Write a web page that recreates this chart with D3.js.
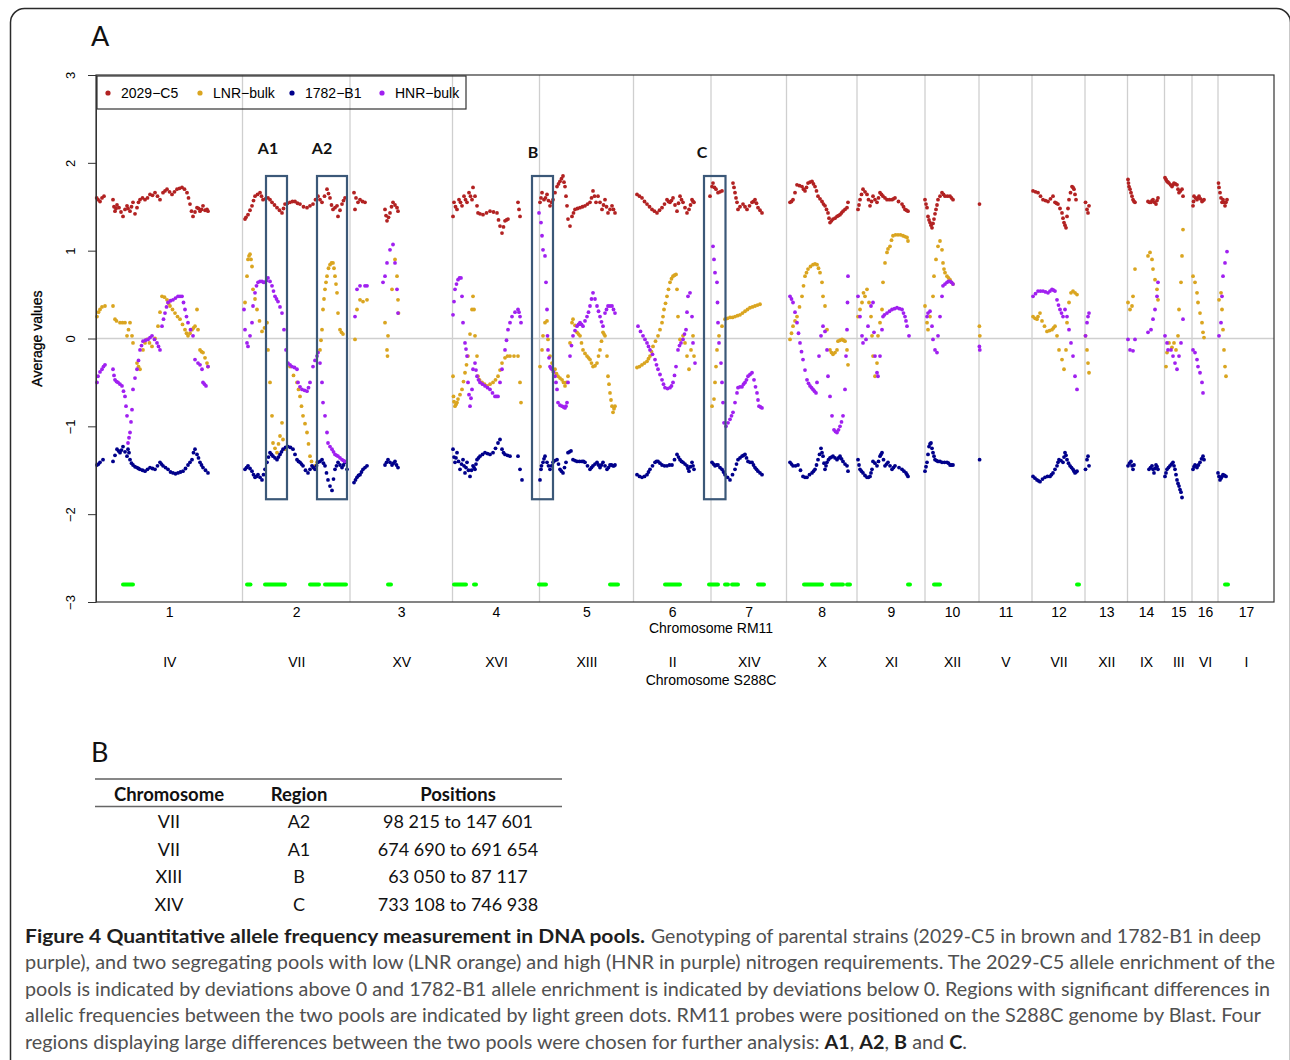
<!DOCTYPE html>
<html><head><meta charset="utf-8">
<script src="https://cdn.jsdelivr.net/npm/d3@7"></script>
<style>body{margin:0;background:#fff}svg{display:block}</style>
</head><body>
<svg id="fig" width="1290" height="1060"></svg>
<script>
// ---------------- DATA ----------------
const chromosomesRM11 = ["1","2","3","4","5","6","7","8","9","10","11","12","13","14","15","16","17"];
const chromosomesS288C = ["IV","VII","XV","XVI","XIII","II","XIV","X","XI","XII","V","VII","XII","IX","III","VI","I"];
// chromosome lengths on the concatenated RM11 axis (kb)
const chromosomeLengthsKb = [1465,1075,1025,870,940,775,755,705,680,540,530,530,425,370,275,260,560];
const yTicks = [-3,-2,-1,0,1,2,3];
const seriesNames = ["2029\u2212C5","LNR\u2212bulk","1782\u2212B1","HNR\u2212bulk"];

// [cumulative genome position (kb), average value]
const values2029C5 = [
 [7,1.60],[20,1.58],[40,1.56],[60,1.60],[80,1.62],[170,1.58],[180,1.50],[190,1.45],[200,1.48],[210,1.52],[230,1.49],[250,1.44],[270,1.39],[290,1.47],[310,1.51],[320,1.48],[340,1.45],[355,1.50],[370,1.55],[390,1.42],[410,1.49],[425,1.55],[440,1.58],[465,1.60],[490,1.58],[515,1.60],[540,1.64],[565,1.63],[590,1.66],[615,1.62],[640,1.58],[670,1.66],[690,1.68],[710,1.70],[735,1.67],[760,1.64],[785,1.67],[810,1.70],[835,1.71],[860,1.72],[885,1.70],[910,1.66],[925,1.60],[940,1.53],[955,1.45],[970,1.39],[990,1.44],[1010,1.49],[1025,1.48],[1040,1.45],[1055,1.47],[1070,1.51],[1090,1.46],[1110,1.47],[1120,1.45],
 [1490,1.36],[1500,1.38],[1520,1.41],[1540,1.46],[1560,1.51],[1575,1.57],[1590,1.62],[1615,1.64],[1640,1.66],[1655,1.62],[1670,1.58],[1695,1.59],[1720,1.60],[1740,1.58],[1760,1.55],[1785,1.52],[1810,1.49],[1835,1.46],[1860,1.43],[1875,1.48],[1890,1.53],[1915,1.54],[1940,1.55],[1965,1.56],[1990,1.56],[2015,1.54],[2040,1.53],[2075,1.50],[2110,1.49],[2140,1.51],[2170,1.53],[2195,1.58],[2220,1.62],[2240,1.58],[2260,1.55],[2285,1.62],[2310,1.70],[2325,1.65],[2340,1.60],[2355,1.52],[2370,1.47],[2390,1.49],[2410,1.51],[2420,1.39],[2440,1.46],[2460,1.53],[2475,1.57],[2490,1.60],
 [2580,1.66],[2590,1.47],[2600,1.60],[2620,1.55],[2640,1.58],[2665,1.56],[2690,1.55],[2890,1.47],[2900,1.40],[2910,1.34],[2925,1.38],[2940,1.43],[2955,1.50],[2970,1.55],[2990,1.52],[3010,1.49],[3020,1.45],
 [3570,1.39],[3580,1.55],[3595,1.50],[3610,1.47],[3630,1.58],[3645,1.55],[3660,1.51],[3680,1.62],[3695,1.58],[3710,1.55],[3730,1.66],[3745,1.62],[3760,1.58],[3770,1.72],[3790,1.62],[3810,1.51],[3820,1.43],[3840,1.42],[3870,1.41],[3905,1.43],[3940,1.45],[3975,1.44],[4010,1.43],[4025,1.35],[4040,1.28],[4060,1.20],[4075,1.27],[4090,1.34],[4105,1.35],[4120,1.36],[4220,1.55],[4230,1.47],[4240,1.39],
 [4440,1.55],[4450,1.60],[4460,1.66],[4480,1.58],[4495,1.60],[4510,1.64],[4525,1.57],[4540,1.51],[4555,1.55],[4570,1.58],[4590,1.66],[4610,1.73],[4625,1.76],[4640,1.79],[4655,1.82],[4670,1.85],[4680,1.78],[4690,1.73],[4700,1.62],[4710,1.51],[4720,1.36],[4740,1.28],[4760,1.39],[4775,1.43],[4790,1.47],[4815,1.48],[4840,1.49],[4865,1.50],[4890,1.51],[4915,1.53],[4940,1.55],[4955,1.60],[4970,1.68],[4985,1.62],[5000,1.55],[5020,1.62],[5040,1.55],[5060,1.47],[5075,1.52],[5090,1.58],[5105,1.50],[5120,1.43],[5140,1.47],[5160,1.51],[5175,1.47],[5190,1.43],
 [5410,1.64],[5435,1.62],[5460,1.60],[5485,1.56],[5510,1.53],[5535,1.50],[5560,1.47],[5585,1.45],[5610,1.43],[5635,1.46],[5660,1.49],[5685,1.53],[5710,1.58],[5725,1.56],[5740,1.55],[5755,1.57],[5770,1.60],[5790,1.52],[5810,1.45],[5825,1.54],[5840,1.62],[5855,1.58],[5870,1.55],[5890,1.49],[5910,1.43],[5930,1.47],[5945,1.52],[5960,1.58],[5970,1.56],[5980,1.55],
 [6140,1.62],[6160,1.73],[6170,1.77],[6185,1.72],[6200,1.70],[6220,1.66],[6240,1.67],[6260,1.68],[6370,1.77],[6380,1.72],[6390,1.66],[6400,1.60],[6410,1.55],[6420,1.47],[6440,1.50],[6470,1.53],[6490,1.50],[6510,1.47],[6535,1.51],[6560,1.55],[6575,1.56],[6590,1.58],[6605,1.54],[6620,1.49],[6640,1.46],[6660,1.43],
 [6940,1.55],[6955,1.56],[6970,1.58],[6990,1.66],[7010,1.75],[7035,1.74],[7060,1.73],[7075,1.70],[7090,1.68],[7105,1.72],[7120,1.77],[7140,1.78],[7160,1.79],[7175,1.76],[7190,1.73],[7205,1.68],[7220,1.62],[7240,1.59],[7260,1.56],[7275,1.53],[7290,1.51],[7305,1.47],[7320,1.43],[7330,1.37],[7340,1.32],[7355,1.34],[7370,1.36],[7390,1.37],[7410,1.39],[7425,1.40],[7440,1.41],[7455,1.43],[7470,1.45],[7490,1.47],[7510,1.49],[7520,1.55],
 [7620,1.47],[7630,1.52],[7640,1.58],[7655,1.64],[7670,1.70],[7690,1.67],[7710,1.64],[7725,1.58],[7740,1.51],[7755,1.56],[7770,1.62],[7790,1.58],[7810,1.55],[7825,1.60],[7840,1.66],[7855,1.64],[7870,1.62],[7890,1.60],[7910,1.58],[7935,1.58],[7960,1.58],[7975,1.59],[7990,1.60],[8025,1.56],[8060,1.53],[8075,1.50],[8090,1.47],[8105,1.46],[8120,1.45],
 [8290,1.58],[8300,1.53],[8310,1.49],[8320,1.39],[8330,1.35],[8340,1.32],[8350,1.29],[8360,1.26],[8370,1.31],[8380,1.36],[8390,1.42],[8400,1.47],[8410,1.52],[8420,1.58],[8440,1.62],[8460,1.66],[8475,1.64],[8490,1.62],[8515,1.62],[8540,1.62],[8555,1.60],[8570,1.58],
 [8835,1.53],
 [9370,1.68],[9395,1.67],[9420,1.66],[9445,1.62],[9470,1.58],[9495,1.57],[9520,1.56],[9545,1.59],[9570,1.62],[9590,1.55],[9605,1.54],[9620,1.53],[9640,1.48],[9660,1.43],[9670,1.37],[9680,1.32],[9690,1.29],[9700,1.26],[9710,1.39],[9720,1.48],[9730,1.58],[9745,1.66],[9760,1.73],[9770,1.72],[9780,1.70],[9790,1.64],[9800,1.58],
 [9895,1.55],[9910,1.47],[9920,1.43],[9930,1.51],
 [10320,1.81],[10325,1.77],[10330,1.73],[10340,1.70],[10350,1.66],[10360,1.62],[10370,1.58],[10380,1.56],[10390,1.55],[10520,1.56],[10535,1.55],[10550,1.55],[10560,1.57],[10570,1.58],[10585,1.55],[10600,1.53],[10610,1.57],[10620,1.60],
 [10690,1.83],[10700,1.81],[10710,1.79],[10720,1.78],[10730,1.77],[10745,1.75],[10760,1.73],[10770,1.75],[10780,1.77],[10795,1.76],[10810,1.75],[10820,1.70],[10830,1.66],[10845,1.68],[10860,1.70],[10870,1.62],
 [10970,1.51],[10975,1.56],[10980,1.62],[10995,1.60],[11010,1.58],[11020,1.60],[11030,1.62],[11045,1.59],[11060,1.56],[11070,1.57],[11080,1.58],
 [11225,1.77],[11230,1.72],[11240,1.66],[11250,1.60],[11260,1.55],[11270,1.58],[11280,1.55],[11290,1.51],[11300,1.55],[11310,1.58]
];
const valuesLNR = [
 [10,0.25],[25,0.30],[40,0.33],[60,0.36],[90,0.37],[170,0.37],[190,0.22],[205,0.20],[240,0.18],[265,0.18],[290,0.18],[310,0.03],[325,0.10],[340,0.18],[360,0.03],[370,-0.05],[410,-0.28],[425,-0.32],[440,-0.35],[470,-0.13],[490,-0.05],[510,-0.01],[535,-0.05],[560,-0.09],[590,0.00],[620,0.14],[640,0.30],[660,0.48],[685,0.47],[710,0.44],[725,0.40],[740,0.37],[765,0.33],[790,0.29],[815,0.25],[840,0.22],[865,0.16],[890,0.10],[905,0.06],[920,0.03],[940,0.06],[960,0.10],[975,0.12],[990,0.14],[1010,0.33],[1020,0.10],[1040,-0.13],[1055,-0.15],[1070,-0.16],[1090,-0.22],[1110,-0.28],[1120,-0.32],
 [1490,0.41],[1510,0.71],[1520,0.90],[1530,0.94],[1540,0.96],[1550,0.90],[1560,0.82],[1570,0.56],[1590,0.45],[1610,0.33],[1635,0.20],[1660,0.08],[1685,0.12],[1710,0.18],[1720,-0.13],[1740,-0.50],[1760,-0.88],[1770,-1.19],[1790,-1.25],[1810,-1.30],[1825,-1.20],[1840,-1.11],[1860,-0.96],[1870,-1.15],[1890,-1.26],[1940,-0.32],[1975,-0.42],[2010,-0.50],[2025,-0.58],[2040,-0.66],[2055,-0.77],[2070,-0.88],[2090,-0.97],[2110,-1.07],[2125,-1.20],[2140,-1.34],[2155,-1.40],[2170,-1.47],[2190,-1.45],[2210,-1.41],[2240,-0.13],[2250,-0.02],[2260,0.10],[2270,0.33],[2280,0.45],[2290,0.56],[2300,0.64],[2310,0.71],[2325,0.80],[2340,0.84],[2355,0.86],[2370,0.86],[2380,0.80],[2390,0.71],[2400,0.62],[2410,0.52],[2420,0.29],[2440,0.10],[2455,0.07],[2470,0.05],
 [2590,-0.01],[2610,0.33],[2640,0.44],[2670,0.42],[2710,0.44],[2890,0.18],[2910,-0.13],[2915,-0.20],[2920,0.03],[2960,0.56],[2990,0.90],[3010,0.71],[3020,0.44],[3025,0.29],
 [3570,-0.43],[3575,-0.66],[3580,-0.72],[3590,-0.77],[3600,-0.75],[3610,-0.73],[3620,-0.69],[3640,-0.64],[3660,-0.58],[3675,-0.49],[3690,-0.39],[3705,-0.30],[3720,-0.20],[3740,0.05],[3760,0.33],[3770,0.48],[3780,0.33],[3790,0.03],[3810,-0.20],[3820,-0.43],[3835,-0.47],[3860,-0.50],[3885,-0.52],[3910,-0.54],[3940,-0.52],[3970,-0.50],[3995,-0.47],[4020,-0.43],[4040,-0.36],[4060,-0.28],[4090,-0.22],[4115,-0.20],[4140,-0.20],[4180,-0.20],[4220,-0.20],[4240,-0.50],[4250,-0.73],
 [4440,-0.32],[4460,-0.13],[4470,0.03],[4490,0.18],[4510,0.20],[4520,-0.01],[4540,-0.20],[4560,-0.28],[4575,-0.38],[4590,-0.35],[4605,-0.40],[4620,-0.43],[4640,-0.45],[4660,-0.47],[4675,-0.50],[4690,-0.54],[4705,-0.50],[4720,-0.43],[4740,-0.05],[4760,0.18],[4770,0.22],[4790,0.15],[4810,0.07],[4825,0.05],[4840,0.03],[4855,-0.05],[4870,-0.13],[4890,-0.17],[4910,-0.20],[4925,-0.22],[4940,-0.24],[4955,-0.28],[4970,-0.32],[4990,-0.31],[5010,-0.28],[5025,-0.20],[5040,-0.13],[5055,-0.03],[5070,0.07],[5080,0.05],[5090,0.03],[5110,-0.20],[5120,-0.43],[5130,-0.52],[5140,-0.62],[5150,-0.70],[5160,-0.77],[5170,-0.84],[5180,-0.80],[5190,-0.77],
 [5410,-0.33],[5435,-0.32],[5460,-0.30],[5485,-0.28],[5510,-0.26],[5525,-0.23],[5540,-0.20],[5555,-0.15],[5570,-0.09],[5595,-0.03],[5620,0.03],[5640,0.10],[5660,0.18],[5670,0.25],[5680,0.33],[5695,0.40],[5710,0.48],[5725,0.56],[5740,0.64],[5755,0.68],[5770,0.71],[5785,0.72],[5800,0.73],[5810,0.56],[5820,0.25],[5840,-0.01],[5870,0.03],[5890,-0.05],[5910,-0.20],[5930,-0.35],[5950,-0.13],[5970,0.03],[5980,-0.20],
 [6160,-0.77],[6180,-0.69],[6190,-0.50],[6200,-0.32],[6210,-0.13],[6230,0.03],[6260,0.14],[6290,0.22],[6315,0.23],[6340,0.24],[6365,0.24],[6390,0.25],[6415,0.26],[6440,0.27],[6465,0.29],[6490,0.31],[6515,0.33],[6540,0.35],[6565,0.36],[6590,0.37],[6615,0.38],[6640,0.39],
 [6940,-0.01],[6955,0.06],[6970,0.14],[6990,0.20],[7010,0.25],[7035,0.36],[7060,0.48],[7075,0.60],[7090,0.71],[7105,0.75],[7120,0.79],[7145,0.82],[7170,0.84],[7190,0.85],[7210,0.84],[7225,0.80],[7240,0.75],[7260,0.64],[7270,0.48],[7290,0.37],[7310,0.10],[7340,-0.13],[7355,-0.16],[7370,-0.18],[7390,-0.16],[7410,-0.13],[7420,-0.03],[7440,-0.02],[7460,-0.01],[7475,-0.02],[7490,-0.03],[7510,-0.13],[7520,-0.30],
 [7620,0.25],[7640,0.33],[7660,0.41],[7675,0.52],[7690,0.48],[7710,0.56],[7730,0.41],[7750,0.25],[7760,0.03],[7770,-0.20],[7790,-0.43],[7810,-0.28],[7820,0.03],[7840,0.18],[7860,0.33],[7870,0.64],[7890,0.86],[7910,0.98],[7920,1.02],[7940,1.05],[7955,1.12],[7970,1.17],[7995,1.18],[8020,1.18],[8045,1.18],[8070,1.17],[8090,1.16],[8110,1.15],[8120,1.11],
 [8290,0.37],[8310,0.18],[8320,0.10],[8340,0.25],[8370,0.48],[8380,0.71],[8400,0.90],[8420,1.05],[8440,1.11],[8460,1.01],[8470,0.86],[8480,0.79],[8490,0.75],[8510,0.71],[8525,0.69],[8540,0.67],[8555,0.64],[8570,0.62],
 [8834,0.14],[8838,0.03],
 [9370,0.25],[9390,0.23],[9410,0.22],[9420,0.25],[9440,0.29],[9460,0.20],[9485,0.14],[9510,0.08],[9535,0.09],[9560,0.10],[9575,0.12],[9590,0.14],[9610,0.03],[9630,-0.13],[9660,-0.24],[9680,-0.35],[9700,-0.13],[9710,0.18],[9730,0.41],[9750,0.52],[9770,0.54],[9790,0.52],[9810,0.50],
 [9895,0.03],[9910,-0.13],[9920,-0.28],[9930,-0.39],
 [10320,0.41],[10340,0.33],[10360,0.37],[10370,0.48],[10390,0.79],[10520,0.94],[10540,0.98],[10560,0.90],[10570,0.79],[10590,0.67],[10610,0.56],[10620,0.44],
 [10700,-0.32],[10710,-0.16],[10730,-0.05],[10760,-0.10],[10780,-0.05],[10800,-0.13],[10820,0.03],[10830,0.33],[10850,0.64],[10860,0.94],[10870,1.24],
 [10970,0.71],[10990,0.64],[11010,0.52],[11020,0.41],[11040,0.29],[11060,0.18],[11070,0.07],[11080,0.01],
 [11230,0.44],[11250,0.52],[11260,0.33],[11270,0.10],[11280,-0.13],[11290,-0.32],[11300,-0.43]
];
const values1782B1 = [
 [10,-1.44],[25,-1.43],[40,-1.41],[70,-1.38],[170,-1.40],[190,-1.33],[210,-1.26],[225,-1.28],[240,-1.30],[255,-1.27],[270,-1.23],[290,-1.29],[310,-1.34],[320,-1.26],[330,-1.30],[340,-1.38],[355,-1.42],[370,-1.44],[390,-1.46],[410,-1.47],[425,-1.48],[440,-1.49],[465,-1.50],[490,-1.51],[515,-1.49],[540,-1.47],[565,-1.48],[590,-1.49],[615,-1.45],[640,-1.41],[655,-1.43],[670,-1.45],[695,-1.47],[720,-1.49],[745,-1.52],[770,-1.53],[795,-1.54],[820,-1.53],[845,-1.52],[870,-1.51],[895,-1.48],[920,-1.44],[940,-1.41],[960,-1.38],[975,-1.30],[990,-1.26],[1010,-1.32],[1025,-1.36],[1040,-1.41],[1055,-1.44],[1070,-1.47],[1095,-1.50],[1120,-1.53],
 [1490,-1.49],[1505,-1.47],[1520,-1.45],[1540,-1.48],[1560,-1.51],[1575,-1.55],[1590,-1.58],[1605,-1.57],[1620,-1.55],[1640,-1.58],[1660,-1.61],[1675,-1.55],[1690,-1.49],[1710,-1.41],[1725,-1.35],[1740,-1.30],[1755,-1.32],[1770,-1.34],[1790,-1.36],[1810,-1.38],[1825,-1.35],[1840,-1.32],[1855,-1.29],[1870,-1.26],[1895,-1.24],[1920,-1.23],[1945,-1.24],[1970,-1.26],[1990,-1.32],[2010,-1.38],[2025,-1.40],[2040,-1.41],[2055,-1.43],[2070,-1.45],[2095,-1.50],[2120,-1.53],[2140,-1.49],[2160,-1.45],[2175,-1.47],[2190,-1.49],[2205,-1.45],[2220,-1.41],[2240,-1.40],[2260,-1.38],[2275,-1.42],[2290,-1.45],[2305,-1.53],[2320,-1.61],[2340,-1.68],[2360,-1.73],[2375,-1.60],[2390,-1.49],[2405,-1.45],[2420,-1.41],[2440,-1.44],[2460,-1.47],[2475,-1.44],[2490,-1.41],[2510,-1.49],
 [2580,-1.64],[2595,-1.61],[2610,-1.58],[2625,-1.56],[2640,-1.55],[2655,-1.52],[2670,-1.49],[2690,-1.47],[2710,-1.45],[2890,-1.44],[2905,-1.41],[2920,-1.38],[2940,-1.41],[2960,-1.44],[2975,-1.42],[2990,-1.40],[3005,-1.44],[3020,-1.47],
 [3570,-1.26],[3580,-1.35],[3590,-1.41],[3600,-1.36],[3610,-1.30],[3625,-1.40],[3640,-1.49],[3655,-1.43],[3670,-1.38],[3680,-1.45],[3690,-1.53],[3700,-1.47],[3710,-1.41],[3725,-1.50],[3740,-1.57],[3755,-1.50],[3770,-1.45],[3780,-1.47],[3790,-1.49],[3800,-1.43],[3810,-1.38],[3825,-1.36],[3840,-1.34],[3865,-1.32],[3890,-1.30],[3915,-1.31],[3940,-1.32],[3970,-1.30],[3995,-1.25],[4020,-1.19],[4040,-1.15],[4060,-1.26],[4075,-1.30],[4090,-1.32],[4115,-1.33],[4140,-1.34],[4220,-1.34],[4240,-1.49],[4260,-1.61],
 [4440,-1.61],[4450,-1.49],[4455,-1.45],[4470,-1.41],[4480,-1.37],[4490,-1.34],[4510,-1.41],[4525,-1.45],[4540,-1.49],[4555,-1.45],[4570,-1.41],[4590,-1.39],[4610,-1.38],[4625,-1.43],[4640,-1.49],[4655,-1.51],[4670,-1.53],[4685,-1.47],[4700,-1.41],[4720,-1.30],[4735,-1.29],[4750,-1.28],[4770,-1.38],[4790,-1.39],[4810,-1.40],[4835,-1.40],[4860,-1.40],[4875,-1.40],[4890,-1.41],[4915,-1.45],[4940,-1.49],[4955,-1.47],[4970,-1.45],[4990,-1.43],[5010,-1.41],[5025,-1.44],[5040,-1.47],[5055,-1.44],[5070,-1.41],[5090,-1.45],[5110,-1.49],[5125,-1.47],[5140,-1.44],[5155,-1.44],[5170,-1.45],[5180,-1.45],[5190,-1.44],
 [5410,-1.55],[5435,-1.57],[5460,-1.58],[5485,-1.57],[5510,-1.55],[5525,-1.52],[5540,-1.49],[5565,-1.45],[5590,-1.41],[5605,-1.40],[5620,-1.40],[5640,-1.42],[5660,-1.44],[5685,-1.45],[5710,-1.45],[5735,-1.44],[5760,-1.44],[5785,-1.38],[5810,-1.32],[5825,-1.35],[5840,-1.38],[5855,-1.40],[5870,-1.41],[5890,-1.43],[5910,-1.45],[5920,-1.48],[5930,-1.51],[5945,-1.46],[5960,-1.41],[5970,-1.45],[5980,-1.49],
 [6160,-1.41],[6175,-1.43],[6190,-1.45],[6205,-1.44],[6220,-1.44],[6240,-1.47],[6260,-1.49],[6275,-1.52],[6290,-1.55],[6315,-1.58],[6340,-1.61],[6365,-1.55],[6390,-1.49],[6405,-1.43],[6420,-1.38],[6440,-1.36],[6460,-1.34],[6475,-1.33],[6490,-1.32],[6505,-1.36],[6520,-1.40],[6540,-1.41],[6560,-1.41],[6575,-1.44],[6590,-1.47],[6605,-1.49],[6620,-1.51],[6640,-1.53],[6660,-1.55],
 [6940,-1.41],[6955,-1.43],[6970,-1.45],[6995,-1.45],[7020,-1.44],[7045,-1.50],[7070,-1.57],[7090,-1.58],[7110,-1.58],[7135,-1.55],[7160,-1.53],[7175,-1.51],[7190,-1.49],[7205,-1.44],[7220,-1.38],[7235,-1.32],[7250,-1.25],[7260,-1.30],[7270,-1.34],[7280,-1.42],[7290,-1.49],[7300,-1.45],[7310,-1.41],[7325,-1.38],[7340,-1.36],[7355,-1.35],[7370,-1.34],[7390,-1.36],[7410,-1.38],[7425,-1.36],[7440,-1.34],[7455,-1.37],[7470,-1.40],[7490,-1.43],[7510,-1.45],[7520,-1.51],
 [7620,-1.38],[7630,-1.44],[7640,-1.49],[7655,-1.51],[7670,-1.53],[7690,-1.56],[7710,-1.58],[7725,-1.58],[7740,-1.57],[7750,-1.53],[7760,-1.49],[7770,-1.40],[7790,-1.42],[7810,-1.45],[7825,-1.40],[7840,-1.34],[7850,-1.32],[7860,-1.30],[7875,-1.38],[7890,-1.45],[7905,-1.43],[7920,-1.41],[7940,-1.45],[7960,-1.49],[7975,-1.47],[7990,-1.45],[8030,-1.47],[8060,-1.49],[8080,-1.51],[8100,-1.53],[8110,-1.55],[8120,-1.57],
 [8290,-1.51],[8300,-1.46],[8310,-1.41],[8320,-1.32],[8330,-1.23],[8340,-1.20],[8350,-1.19],[8360,-1.25],[8370,-1.30],[8380,-1.34],[8390,-1.38],[8405,-1.39],[8420,-1.40],[8440,-1.40],[8460,-1.41],[8485,-1.41],[8510,-1.41],[8525,-1.42],[8540,-1.44],[8555,-1.44],[8570,-1.44],
 [8836,-1.38],
 [9370,-1.57],[9390,-1.59],[9410,-1.61],[9425,-1.62],[9440,-1.63],[9465,-1.60],[9490,-1.58],[9515,-1.57],[9540,-1.57],[9555,-1.55],[9570,-1.53],[9590,-1.49],[9610,-1.45],[9620,-1.41],[9630,-1.38],[9650,-1.39],[9670,-1.41],[9680,-1.35],[9690,-1.30],[9700,-1.33],[9710,-1.38],[9725,-1.42],[9740,-1.45],[9755,-1.47],[9770,-1.49],[9780,-1.51],[9790,-1.53],[9800,-1.52],[9810,-1.51],
 [9895,-1.49],[9910,-1.38],[9920,-1.34],[9930,-1.45],
 [10320,-1.45],[10335,-1.42],[10350,-1.40],[10360,-1.45],[10370,-1.49],[10380,-1.44],[10530,-1.49],[10545,-1.47],[10560,-1.45],[10570,-1.49],[10580,-1.53],[10590,-1.48],[10600,-1.44],[10610,-1.46],[10620,-1.49],
 [10690,-1.57],[10700,-1.53],[10710,-1.49],[10725,-1.47],[10740,-1.45],[10755,-1.43],[10770,-1.41],[10780,-1.45],[10790,-1.49],[10800,-1.55],[10810,-1.61],[10820,-1.65],[10830,-1.68],[10840,-1.72],[10850,-1.75],[10860,-1.81],
 [10970,-1.49],[10980,-1.46],[10990,-1.44],[11000,-1.45],[11010,-1.47],[11025,-1.44],[11040,-1.41],[11055,-1.37],[11070,-1.34],[11080,-1.38],
 [11220,-1.53],[11230,-1.57],[11240,-1.61],[11250,-1.59],[11260,-1.57],[11270,-1.55],[11285,-1.56],[11300,-1.57]
];
const valuesHNR = [
 [10,-0.50],[20,-0.43],[40,-0.38],[60,-0.35],[75,-0.32],[90,-0.30],[170,-0.35],[180,-0.42],[190,-0.47],[205,-0.49],[220,-0.50],[240,-0.52],[260,-0.54],[275,-0.60],[290,-0.66],[300,-0.77],[310,-0.88],[320,-1.19],[330,-1.13],[340,-1.07],[350,-0.95],[360,-0.81],[370,-0.58],[390,-0.45],[410,-0.35],[425,-0.25],[440,-0.13],[455,-0.08],[470,-0.03],[495,-0.02],[520,-0.01],[540,0.01],[560,0.03],[585,-0.01],[610,-0.05],[625,-0.09],[640,-0.13],[660,0.14],[675,0.22],[690,0.29],[705,0.36],[720,0.41],[745,0.43],[770,0.44],[795,0.46],[820,0.48],[840,0.48],[860,0.48],[875,0.41],[890,0.33],[905,0.25],[920,0.18],[945,0.10],[970,0.03],[990,-0.24],[1020,-0.28],[1040,-0.30],[1060,-0.35],[1070,-0.50],[1085,-0.52],[1100,-0.54],[1120,-0.32],
 [1480,0.33],[1490,0.10],[1510,-0.05],[1520,-0.09],[1540,0.03],[1560,0.18],[1570,0.37],[1590,0.52],[1605,0.60],[1620,0.64],[1640,0.65],[1660,0.65],[1675,0.64],[1690,0.64],[1705,0.66],[1720,0.69],[1740,0.65],[1760,0.60],[1775,0.54],[1790,0.48],[1805,0.45],[1820,0.42],[1840,0.36],[1860,0.29],[1880,0.10],[1900,-0.13],[1920,-0.28],[1940,-0.30],[1960,-0.32],[1985,-0.33],[2010,-0.35],[2020,-0.50],[2040,-0.55],[2060,-0.58],[2085,-0.59],[2110,-0.60],[2125,-0.56],[2140,-0.50],[2170,-0.32],[2190,-0.25],[2210,-0.20],[2220,-0.16],[2240,-0.28],[2260,-0.50],[2270,-0.73],[2290,-0.88],[2310,-1.07],[2320,-1.19],[2340,-1.23],[2360,-1.26],[2375,-1.29],[2390,-1.32],[2405,-1.33],[2420,-1.34],[2440,-1.36],[2460,-1.38],[2475,-1.39],[2490,-1.40],
 [2590,0.25],[2610,0.56],[2640,0.60],[2690,0.60],[2710,0.60],[2870,0.64],[2890,0.71],[2910,0.86],[2940,1.01],[2970,1.07],[2990,0.86],[3010,0.56],[3020,0.29],
 [3570,0.27],[3580,0.42],[3590,0.56],[3605,0.62],[3620,0.67],[3635,0.69],[3650,0.69],[3660,0.48],[3670,0.18],[3690,-0.05],[3700,-0.12],[3710,-0.20],[3720,-0.50],[3730,-0.64],[3740,-0.77],[3750,-0.68],[3760,-0.58],[3770,-0.35],[3790,-0.28],[3800,-0.36],[3810,-0.43],[3825,-0.47],[3840,-0.50],[3865,-0.52],[3890,-0.54],[3915,-0.56],[3940,-0.58],[3965,-0.62],[3990,-0.66],[4005,-0.66],[4020,-0.66],[4040,-0.50],[4060,-0.35],[4090,-0.13],[4105,-0.02],[4120,0.10],[4140,0.18],[4160,0.25],[4190,0.30],[4220,0.33],[4230,0.30],[4240,0.25],[4250,0.18],
 [4430,1.43],[4450,1.32],[4460,1.17],[4470,1.01],[4490,0.94],[4500,0.64],[4510,0.33],[4515,0.03],[4520,-0.13],[4530,-0.22],[4540,-0.32],[4550,-0.34],[4560,-0.35],[4575,-0.38],[4590,-0.43],[4600,-0.50],[4610,-0.58],[4620,-0.73],[4640,-0.76],[4660,-0.77],[4675,-0.78],[4690,-0.79],[4700,-0.77],[4710,-0.73],[4720,-0.50],[4740,-0.20],[4755,-0.08],[4770,0.03],[4790,0.09],[4810,0.14],[4825,0.16],[4840,0.18],[4855,0.16],[4870,0.14],[4890,0.20],[4910,0.25],[4925,0.30],[4940,0.37],[4955,0.45],[4970,0.52],[4990,0.45],[5010,0.37],[5025,0.31],[5040,0.25],[5055,0.19],[5070,0.14],[5090,0.29],[5105,0.33],[5120,0.37],[5140,0.37],[5160,0.37],[5175,0.33],[5190,0.29],
 [5420,0.14],[5445,0.08],[5470,0.03],[5490,-0.01],[5510,-0.05],[5525,-0.09],[5540,-0.13],[5565,-0.18],[5590,-0.24],[5605,-0.30],[5620,-0.35],[5640,-0.41],[5660,-0.47],[5675,-0.52],[5690,-0.56],[5715,-0.57],[5740,-0.56],[5755,-0.54],[5770,-0.50],[5785,-0.42],[5800,-0.32],[5820,-0.13],[5835,-0.08],[5850,-0.05],[5870,-0.01],[5885,0.05],[5900,0.10],[5910,0.30],[5920,0.48],[5940,0.52],[5960,0.25],[5970,-0.05],[5990,-0.28],
 [6170,1.05],[6180,0.90],[6190,0.75],[6210,0.64],[6215,0.41],[6220,0.18],[6230,-0.05],[6250,-0.28],[6260,-0.50],[6270,-0.73],[6280,-0.96],[6300,-1.00],[6320,-0.96],[6340,-0.92],[6355,-0.88],[6370,-0.84],[6390,-0.73],[6410,-0.62],[6420,-0.56],[6440,-0.55],[6460,-0.55],[6475,-0.52],[6490,-0.50],[6505,-0.47],[6520,-0.43],[6540,-0.41],[6560,-0.39],[6580,-0.47],[6595,-0.55],[6610,-0.62],[6620,-0.70],[6630,-0.77],[6645,-0.78],[6660,-0.79],
 [6940,0.48],[6955,0.45],[6970,0.41],[6990,0.30],[7010,0.18],[7025,0.06],[7040,-0.05],[7055,-0.15],[7070,-0.24],[7090,-0.36],[7110,-0.47],[7125,-0.51],[7140,-0.54],[7155,-0.56],[7170,-0.58],[7185,-0.60],[7200,-0.62],[7210,-0.50],[7230,-0.20],[7250,0.03],[7270,0.14],[7290,0.08],[7310,-0.13],[7320,-0.43],[7340,-0.66],[7360,-0.88],[7380,-1.04],[7395,-1.06],[7410,-1.07],[7425,-1.04],[7440,-1.00],[7455,-0.95],[7470,-0.88],[7490,-0.58],[7500,-0.20],[7510,0.10],[7515,0.41],[7520,0.71],
 [7620,0.48],[7640,0.25],[7660,0.03],[7670,-0.05],[7700,-0.01],[7720,0.14],[7750,0.37],[7770,0.41],[7780,0.07],[7790,-0.20],[7810,-0.39],[7820,-0.43],[7840,-0.20],[7860,0.10],[7870,0.25],[7885,0.27],[7910,0.29],[7935,0.31],[7960,0.33],[7985,0.34],[8010,0.35],[8035,0.34],[8060,0.33],[8075,0.29],[8090,0.25],[8100,0.20],[8110,0.14],[8130,0.03],
 [8310,0.25],[8320,0.29],[8340,0.31],[8360,0.14],[8370,-0.01],[8390,-0.13],[8410,-0.16],[8420,0.03],[8440,0.25],[8460,0.48],[8470,0.60],[8490,0.62],[8510,0.64],[8525,0.65],[8540,0.65],[8555,0.64],[8570,0.62],
 [8834,-0.09],[8838,-0.13],
 [9370,0.48],[9395,0.51],[9420,0.54],[9445,0.54],[9470,0.54],[9495,0.53],[9520,0.52],[9540,0.54],[9560,0.56],[9575,0.55],[9590,0.54],[9610,0.44],[9625,0.38],[9640,0.33],[9655,0.29],[9670,0.25],[9690,0.33],[9710,0.25],[9730,0.10],[9750,-0.05],[9770,-0.20],[9790,-0.43],[9810,-0.58],
 [9895,0.03],[9910,0.18],[9920,0.25],[9930,0.29],
 [10320,-0.01],[10340,-0.13],[10370,-0.14],[10390,-0.01],[10520,0.07],[10550,0.10],[10570,0.22],[10590,0.33],[10610,0.48],[10620,0.64],
 [10690,0.03],[10710,-0.05],[10720,-0.13],[10750,-0.13],[10770,-0.20],[10790,-0.28],[10810,-0.35],[10830,-0.20],[10850,-0.05],[10870,0.22],
 [10970,-0.13],[10990,-0.16],[11010,-0.24],[11020,-0.32],[11040,-0.39],[11060,-0.50],[11070,-0.62],
 [11230,0.03],[11250,0.18],[11260,0.48],[11270,0.71],[11290,0.86],[11310,0.99]
];
// regions with significant differences between the pools (kb, start-end)
const significantRegions = [[270,370],[1510,1545],[1690,1890],[2140,2230],[2290,2500],[2920,2950],[3580,3700],[3780,3800],[4430,4500],[5140,5220],[5690,5840],[6130,6220],[6290,6320],[6360,6420],[6620,6680],[7080,7260],[7360,7470],[7510,7540],[8120,8140],[8380,8440],[9810,9830],[11290,11320]];
const significanceLevel = -2.8;
const highlightNames = ["A1","A2","B","C"];
const highlightStart = [1700,2210,4360,6080];
const highlightEnd = [1910,2510,4570,6295];
const highlightLabelPos = [1720,2260,4370,6060];
const highlightTop = 1.85, highlightBottom = -1.83;

const tableHeader = ["Chromosome","Region","Positions"];
const tableChromosome = ["VII","VII","XIII","XIV"];
const tableRegion = ["A2","A1","B","C"];
const tablePositions = ["98 215 to 147 601","674 690 to 691 654","63 050 to 87 117","733 108 to 746 938"];

// ---------------- DRAWING ----------------
const svg = d3.select("#fig");
const R_FONT = "'Liberation Sans', Arial, sans-serif";
const C_FONT = "Lato, 'Open Sans', sans-serif";
const colors = ["#B22222","#DAA520","#00008B","#A020F0"];
const seriesData = [values2029C5, valuesLNR, values1782B1, valuesHNR];

svg.append("rect").attr("x",10.5).attr("y",8.5).attr("width",1280).attr("height",1100)
  .attr("rx",14).attr("fill","none").attr("stroke","#2a2a2a").attr("stroke-width",1.5);

svg.append("text").attr("x",91).attr("y",46).text("A")
  .style("font-family",C_FONT).style("font-size","27px").attr("fill","#111");

const total = d3.sum(chromosomeLengthsKb);
const x = d3.scaleLinear().domain([0,total]).range([96,1274]);
const y = d3.scaleLinear().domain([-3,3]).range([602,75]);
const starts = d3.cumsum([0].concat(chromosomeLengthsKb)).slice(0,-1);
const mids = chromosomeLengthsKb.map((l,i)=>starts[i]+l/2);

const plot = svg.append("g");
plot.selectAll("line.sep").data(starts.slice(1)).join("line").attr("class","sep")
  .attr("x1",d=>x(d)).attr("x2",d=>x(d)).attr("y1",y(3)).attr("y2",y(-3))
  .attr("stroke","#cfcfcf").attr("stroke-width",1.3);
plot.append("line").attr("x1",x(0)).attr("x2",x(total)).attr("y1",y(0)).attr("y2",y(0))
  .attr("stroke","#cfcfcf").attr("stroke-width",1.3);

seriesData.forEach((data,i)=>{
  plot.append("g").selectAll("circle").data(data).join("circle")
    .attr("cx",d=>x(d[0])).attr("cy",d=>y(d[1])).attr("r",1.9).attr("fill",colors[i]);
});

plot.append("g").selectAll("line").data(significantRegions).join("line")
  .attr("x1",d=>x(d[0])).attr("x2",d=>x(d[1])).attr("y1",y(significanceLevel)).attr("y2",y(significanceLevel))
  .attr("stroke","#00FF00").attr("stroke-width",4).attr("stroke-linecap","round");

const hl = highlightNames.map((n,i)=>({n, s:highlightStart[i], e:highlightEnd[i], l:highlightLabelPos[i]}));
plot.append("g").selectAll("rect").data(hl).join("rect")
  .attr("x",d=>x(d.s)).attr("width",d=>x(d.e)-x(d.s)).attr("y",y(highlightTop)).attr("height",y(highlightBottom)-y(highlightTop))
  .attr("fill","none").attr("stroke","#3B5878").attr("stroke-width",2.2);
plot.append("g").selectAll("text").data(hl).join("text")
  .attr("x",d=>x(d.l)).attr("y",(d,i)=>y(highlightTop)-(i<2?22:18)).attr("text-anchor","middle")
  .style("font-family",C_FONT).style("font-weight","bold").style("font-size","16px").attr("fill","#111").text(d=>d.n);

plot.append("rect").attr("x",x(0)).attr("y",y(3)).attr("width",x(total)-x(0)).attr("height",y(-3)-y(3))
  .attr("fill","none").attr("stroke","#333").attr("stroke-width",1.2);

const yAxis = plot.append("g").attr("transform",`translate(${x(0)},0)`)
  .call(d3.axisLeft(y).tickValues(yTicks).tickSize(8).tickSizeOuter(0)
        .tickFormat(d=> d<0 ? "\u2212"+Math.abs(d) : String(d)));
yAxis.select(".domain").attr("stroke","#333");
yAxis.selectAll(".tick line").attr("stroke","#333");
yAxis.selectAll(".tick text").attr("x",0).attr("dy",0).attr("text-anchor","middle")
  .attr("transform","translate(-21,0) rotate(-90)")
  .style("font-family",R_FONT).style("font-size","13px").attr("fill","#000");
svg.append("text").attr("transform",`translate(42,${y(0)}) rotate(-90)`).attr("text-anchor","middle")
  .style("font-family",R_FONT).style("font-size","14px").attr("fill","#000")
  .attr("stroke","#000").attr("stroke-width",0.3).text("Average values");

const xAxis1 = plot.append("g").attr("transform",`translate(0,${y(-3)})`)
  .call(d3.axisBottom(x).tickValues(mids).tickSize(0).tickPadding(5).tickFormat((d,i)=>chromosomesRM11[i]));
const xAxis2 = plot.append("g").attr("transform",`translate(0,${y(-3)})`)
  .call(d3.axisBottom(x).tickValues(mids).tickSize(0).tickPadding(55).tickFormat((d,i)=>chromosomesS288C[i]));
[xAxis1,xAxis2].forEach(a=>{
  a.select(".domain").remove();
  a.selectAll(".tick text").style("font-family",R_FONT).style("font-size","14px").attr("fill","#000");
});
svg.append("text").attr("x",711).attr("y",633).attr("text-anchor","middle")
  .style("font-family",R_FONT).style("font-size","14px").attr("fill","#000").text("Chromosome RM11");
svg.append("text").attr("x",711).attr("y",685).attr("text-anchor","middle")
  .style("font-family",R_FONT).style("font-size","14px").attr("fill","#000").text("Chromosome S288C");

const lg = svg.append("g");
lg.append("rect").attr("x",97).attr("y",76).attr("width",369).attr("height",33)
  .attr("fill","none").attr("stroke","#333").attr("stroke-width",1.2);
const legendX = [108,200,292,382];
seriesNames.forEach((n,i)=>{
  lg.append("circle").attr("cx",legendX[i]).attr("cy",93).attr("r",2.6).attr("fill",colors[i]);
  lg.append("text").attr("x",legendX[i]+13).attr("y",98).text(n)
    .style("font-family",R_FONT).style("font-size","14px").attr("fill","#000");
});

// ---------------- PANEL B (table) ----------------
svg.append("text").attr("x",91).attr("y",762).text("B")
  .style("font-family",C_FONT).style("font-size","27px").attr("fill","#111");
const colX = [169,299,458];
svg.append("line").attr("x1",95).attr("x2",562).attr("y1",779).attr("y2",779).attr("stroke","#111").attr("stroke-width",1.2);
svg.append("line").attr("x1",95).attr("x2",562).attr("y1",806.5).attr("y2",806.5).attr("stroke","#666").attr("stroke-width",1.5);
tableHeader.forEach((h,i)=>{
  svg.append("text").attr("x",colX[i]).attr("y",801).attr("text-anchor","middle").text(h)
    .style("font-family",C_FONT).style("font-weight","bold").style("font-size","18.5px").attr("fill","#111");
});
const rowY = [828,856,883,911];
[tableChromosome,tableRegion,tablePositions].forEach((col,ci)=>{
  col.forEach((v,ri)=>{
    svg.append("text").attr("x",colX[ci]).attr("y",rowY[ri]).attr("text-anchor","middle").text(v)
      .style("font-family",C_FONT).style("font-size","18px").attr("fill","#111");
  });
});

// ---------------- CAPTION ----------------
// each line is split into blocks [startX, endX, parts]; parts are laid out left to right and fitted to the block
const capBlocks = [
 [[25,645,[["b","Figure 4 Quantitative allele frequency measurement in DNA pools."]]],
  [651,1261,[["n","Genotyping of parental strains (2029-C5 in brown and 1782-B1 in deep"]]]],
 [[25,1275,[["n","purple), and two segregating pools with low (LNR orange) and high (HNR in purple) nitrogen requirements. The 2029-C5 allele enrichment of the"]]]],
 [[25,1270,[["n","pools is indicated by deviations above 0 and 1782-B1 allele enrichment is indicated by deviations below 0. Regions with significant differences in"]]]],
 [[25,1261,[["n","allelic frequencies between the two pools are indicated by light green dots. RM11 probes were positioned on the S288C genome by Blast. Four"]]]],
 [[25,967,[["n","regions displaying large differences between the two pools were chosen for further analysis: "],["b","A1"],["n",", "],["b","A2"],["n",", "],["b","B"],["n"," and "],["b","C"],["n","."]]]]
];
const capY = [943,969,996,1022,1049];
const CAP_SIZE = 18.5;
capBlocks.forEach((blocks,li)=>{
  blocks.forEach(([x0,x1,parts])=>{
    const nodes = parts.map(p=>{
      const t = svg.append("text").attr("y",capY[li]).attr("x",0)
        .style("font-family",C_FONT).style("font-size",CAP_SIZE+"px").style("white-space","pre")
        .style("font-weight",p[0]==="b"?"bold":"normal").attr("fill",p[0]==="b"?"#1e1e1e":"#505050")
        .text(p[1]);
      return {t, w:t.node().getComputedTextLength()};
    });
    const k = (x1-x0)/d3.sum(nodes,n=>n.w);
    let cx = x0;
    nodes.forEach(n=>{
      const w = n.w*k;
      const raw = n.t.text();
      const lead = /^\s/.test(raw), trail = /\s$/.test(raw);
      let shift = 0, w2 = w;
      if (lead || trail) {
        n.t.text(raw.trim());
        const wt = n.t.node().getComputedTextLength()*k;
        const sp = (w - wt);
        shift = lead ? (trail ? sp/2 : sp) : 0;
        w2 = wt;
      }
      n.t.attr("x",cx+shift).attr("textLength",w2).attr("lengthAdjust","spacingAndGlyphs");
      cx += w;
    });
  });
});
</script>
</body></html>
